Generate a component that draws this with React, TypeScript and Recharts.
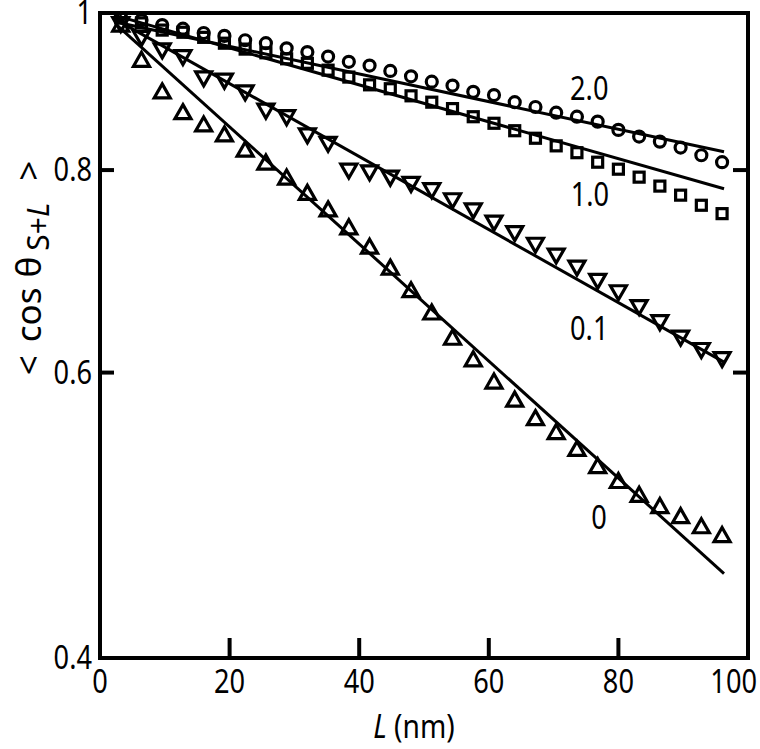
import React from 'react';
import { ComposedChart, XAxis, YAxis, Line, Scatter, ReferenceDot } from 'recharts';

// L (nm) positions of the simulated points
const lengths = [3.2, 6.4, 9.6, 12.8, 16, 19.2, 22.4, 25.6, 28.8, 32, 35.2, 38.4, 41.6, 44.8, 48, 51.2, 54.4, 57.6, 60.8, 64, 67.2, 70.4, 73.6, 76.8, 80, 83.2, 86.4, 89.6, 92.8, 96];

// <cos θ> values
const cos20 = [0.998, 0.990, 0.983, 0.978, 0.972, 0.968, 0.962, 0.958, 0.951, 0.946, 0.940, 0.933, 0.928, 0.921, 0.914, 0.907, 0.902, 0.894, 0.890, 0.881, 0.875, 0.868, 0.863, 0.857, 0.847, 0.839, 0.833, 0.826, 0.817, 0.809];
const cos10 = [0.993, 0.986, 0.976, 0.973, 0.966, 0.958, 0.950, 0.945, 0.937, 0.931, 0.922, 0.913, 0.903, 0.898, 0.889, 0.881, 0.873, 0.863, 0.855, 0.846, 0.837, 0.828, 0.820, 0.809, 0.801, 0.792, 0.782, 0.772, 0.761, 0.752];
const cos01 = [0.985, 0.966, 0.949, 0.940, 0.912, 0.909, 0.894, 0.871, 0.863, 0.841, 0.831, 0.800, 0.798, 0.792, 0.785, 0.778, 0.767, 0.756, 0.743, 0.732, 0.720, 0.709, 0.697, 0.684, 0.673, 0.659, 0.645, 0.631, 0.620, 0.612];
const cos00 = [0.983, 0.935, 0.894, 0.868, 0.853, 0.841, 0.823, 0.808, 0.791, 0.774, 0.756, 0.737, 0.717, 0.696, 0.674, 0.653, 0.630, 0.611, 0.592, 0.577, 0.562, 0.551, 0.538, 0.525, 0.514, 0.504, 0.496, 0.489, 0.482, 0.476];

// fitted exponential lines (end points)
const fitL = [2.6, 96.3];
const fit20 = [0.987, 0.821];
const fit10 = [0.996, 0.779];
const fit01 = [0.990, 0.609];
const fit00 = [0.983, 0.451];

// curve labels
const labelText = ['2.0', '1.0', '0.1', '0'];
const labelX = [75.5, 75.6, 75.5, 77];
const labelY = [0.898, 0.772, 0.638, 0.488];

const xTicks = [0, 20, 40, 60, 80, 100];
const yTicks = [0.4, 0.6, 0.8, 1];

const pts = (ys: number[]) => lengths.map((x, i) => ({ x, y: ys[i] }));
const fit = (ys: number[]) => fitL.map((x, i) => ({ x, y: ys[i] }));

const FONT = "'Noto Sans', 'Open Sans', 'DejaVu Sans', sans-serif";
const axisLine = { stroke: '#000', strokeWidth: 4, strokeLinecap: 'square' } as any;

// condensed text (horizontal squeeze) to mimic the narrow figure typeface
const NText = ({ x, y, anchor = 'middle', size = 32, sx = 0.85, children }: any) => (
  <text
    transform={`translate(${x},${y}) scale(${sx},1)`}
    x={0}
    y={0}
    textAnchor={anchor}
    style={{ fontFamily: FONT, fontSize: size, fill: '#000' }}
  >
    {children}
  </text>
);

const XTickBottom = (p: any) => {
  const { x, y, payload } = p;
  const last = payload.value === 100;
  return (
    <g>
      <line x1={x} x2={x} y1={y} y2={y - 20} stroke="#000" strokeWidth={4} />
      <NText x={last ? x + 9 : x} y={y + 35} anchor={last ? 'end' : 'middle'}>
        {payload.value}
      </NText>
    </g>
  );
};
const XTickTop = (p: any) => (
  <line x1={p.x} x2={p.x} y1={p.y} y2={p.y + 20} stroke="#000" strokeWidth={4} />
);
const YTickLeft = (p: any) => {
  const { x, y, payload } = p;
  return (
    <g>
      <line x1={x} x2={x + 14} y1={y} y2={y} stroke="#000" strokeWidth={4} />
      <NText x={x - 8} y={y + 11} anchor="end">
        {payload.value}
      </NText>
    </g>
  );
};
const YTickRight = (p: any) => (
  <line x1={p.x} x2={p.x - 15} y1={p.y} y2={p.y} stroke="#000" strokeWidth={4} />
);

const YTitle = () => (
  <text
    transform="translate(41,268) rotate(-90)"
    x={0}
    y={0}
    textAnchor="middle"
    style={{ fontFamily: FONT, fontSize: 35, fill: '#000' }}
  >
    <tspan>{'<'}</tspan>
    <tspan dx={13}>cos</tspan>
    <tspan dx={10}>θ</tspan>
    <tspan dx={6} dy={8} fontSize={30}>S+</tspan>
    <tspan fontSize={30} fontStyle="italic">L</tspan>
    <tspan dx={22} dy={-8}>{'>'}</tspan>
  </text>
);

const XTitle = () => (
  <text
    transform="translate(414,738) scale(0.88,1)"
    x={0}
    y={0}
    textAnchor="middle"
    style={{ fontFamily: FONT, fontSize: 32, fill: '#000' }}
  >
    <tspan fontStyle="italic">L</tspan>
    <tspan>{' (nm)'}</tspan>
  </text>
);

const Circ = (p: any) => <circle cx={p.cx} cy={p.cy} r={5.5} fill="none" stroke="#000" strokeWidth={3.2} />;
const Sq = (p: any) => <rect x={p.cx - 5} y={p.cy - 5} width={10} height={10} fill="none" stroke="#000" strokeWidth={3.2} />;
const Up = (p: any) => (
  <path d={`M${p.cx},${p.cy - 8}L${p.cx + 8},${p.cy + 6}L${p.cx - 8},${p.cy + 6}Z`} fill="none" stroke="#000" strokeWidth={3.2} />
);
const Down = (p: any) => (
  <path d={`M${p.cx},${p.cy + 8}L${p.cx + 8},${p.cy - 6}L${p.cx - 8},${p.cy - 6}Z`} fill="none" stroke="#000" strokeWidth={3.2} />
);

export default function App() {
  return (
    <div style={{ position: 'absolute', left: 0, top: 0, background: '#fff' }}>
      <ComposedChart width={760} height={749} margin={{ top: 0, right: 0, bottom: 0, left: 0 }}>
        <XAxis
          xAxisId="b"
          dataKey="x"
          type="number"
          domain={[0, 100]}
          ticks={xTicks}
          interval={0}
          height={91}
          axisLine={axisLine}
          tickLine={false}
          tickSize={0}
          tickMargin={0}
          tick={<XTickBottom />}
          allowDataOverflow
        />
        <XAxis
          xAxisId="t"
          orientation="top"
          type="number"
          domain={[0, 100]}
          ticks={xTicks}
          interval={0}
          height={13}
          axisLine={axisLine}
          tickLine={false}
          tickSize={0}
          tickMargin={0}
          tick={<XTickTop />}
          allowDataOverflow
        />
        <YAxis
          yAxisId="l"
          dataKey="y"
          type="number"
          scale="log"
          domain={[0.4, 1]}
          ticks={yTicks}
          interval={0}
          width={100}
          axisLine={axisLine}
          tickLine={false}
          tickSize={0}
          tickMargin={0}
          tick={<YTickLeft />}
          allowDataOverflow
          label={<YTitle />}
        />
        <YAxis
          yAxisId="r"
          orientation="right"
          type="number"
          scale="log"
          domain={[0.4, 1]}
          ticks={yTicks}
          interval={0}
          width={12}
          axisLine={axisLine}
          tickLine={false}
          tickSize={0}
          tickMargin={0}
          tick={<YTickRight />}
          allowDataOverflow
        />
        <Line xAxisId="b" yAxisId="l" data={fit(fit20)} dataKey="y" type="linear" stroke="#000" strokeWidth={3} dot={false} isAnimationActive={false} />
        <Line xAxisId="b" yAxisId="l" data={fit(fit10)} dataKey="y" type="linear" stroke="#000" strokeWidth={3} dot={false} isAnimationActive={false} />
        <Line xAxisId="b" yAxisId="l" data={fit(fit01)} dataKey="y" type="linear" stroke="#000" strokeWidth={3} dot={false} isAnimationActive={false} />
        <Line xAxisId="b" yAxisId="l" data={fit(fit00)} dataKey="y" type="linear" stroke="#000" strokeWidth={3} dot={false} isAnimationActive={false} />
        <Scatter xAxisId="b" yAxisId="l" data={pts(cos20)} shape={Circ} isAnimationActive={false} />
        <Scatter xAxisId="b" yAxisId="l" data={pts(cos10)} shape={Sq} isAnimationActive={false} />
        <Scatter xAxisId="b" yAxisId="l" data={pts(cos01)} shape={Down} isAnimationActive={false} />
        <Scatter xAxisId="b" yAxisId="l" data={pts(cos00)} shape={Up} isAnimationActive={false} />
        {labelText.map((t, i) => (
          <ReferenceDot
            key={t}
            xAxisId="b"
            yAxisId="l"
            x={labelX[i]}
            y={labelY[i]}
            r={0}
            fill="none"
            stroke="none"
            label={{
              content: (p: any) => {
                const vb = p.viewBox || {};
                const cx = (vb.x ?? 0) + (vb.width ?? 0) / 2;
                const cy = (vb.y ?? 0) + (vb.height ?? 0) / 2;
                return <NText x={cx} y={cy + 11}>{t}</NText>;
              },
            }}
          />
        ))}
      </ComposedChart>
      <svg width={760} height={749} style={{ position: 'absolute', left: 0, top: 0, pointerEvents: 'none' }}>
        <XTitle />
      </svg>
    </div>
  );
}
